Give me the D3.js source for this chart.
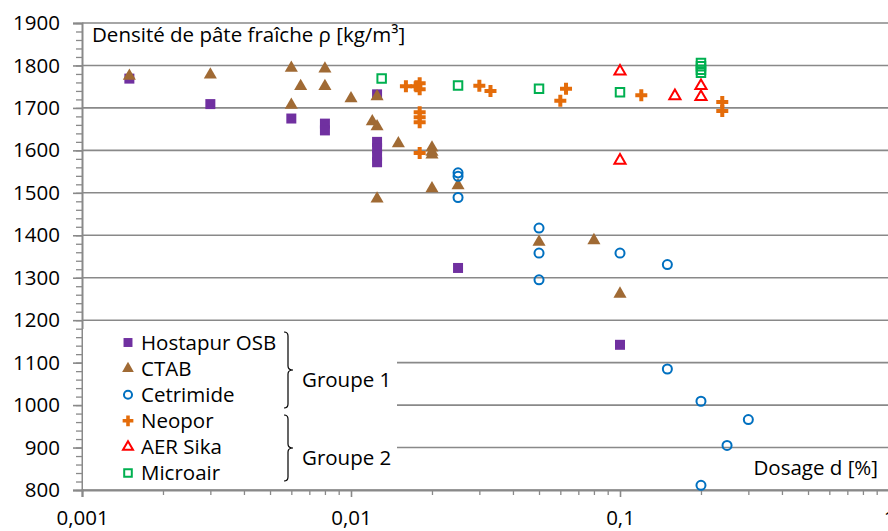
<!DOCTYPE html>
<html>
<head>
<meta charset="utf-8">
<script src="https://cdn.jsdelivr.net/npm/d3@7"></script>
<style>
    body { margin: 0; background: #fff; }
    svg text { font-family: "Open Sans", sans-serif; fill: #000; }
</style>
</head>
<body>
<div id="chart"></div>
<script>
// data: [dosage %, density kg/m3]
var hostapur = [[0.0015,1769],[0.003,1709],[0.006,1675],[0.008,1663],[0.008,1647],[0.0125,1732],
    [0.0125,1620],[0.0125,1605],[0.0125,1588],[0.0125,1572],[0.025,1323],[0.1,1142]];
var ctab = [[0.0015,1775],[0.003,1778],[0.006,1794],[0.006,1707],[0.0065,1751],[0.008,1792],
    [0.008,1751],[0.01,1722],[0.012,1668],[0.0125,1727],[0.0125,1656],[0.0125,1486],[0.015,1616],
    [0.02,1606],[0.02,1596],[0.02,1590],[0.02,1510],[0.025,1517],[0.05,1384],[0.08,1388],[0.1,1262]];
var cetrimide = [[0.025,1547],[0.025,1539],[0.025,1489],[0.05,1417],[0.05,1358],[0.05,1295],
    [0.1,1358],[0.15,1331],[0.15,1085],[0.2,1009],[0.3,966],[0.25,905],[0.2,811]];
var neopor = [[0.016,1751],[0.0175,1751],[0.018,1758],[0.018,1744],[0.018,1690],[0.018,1678],
    [0.018,1666],[0.018,1594],[0.03,1752],[0.033,1740],[0.06,1717],[0.063,1745],[0.12,1730],
    [0.24,1714],[0.24,1693]];
var aerSika = [[0.1,1786],[0.1,1576],[0.16,1728],[0.2,1752],[0.2,1726]];
var microair = [[0.013,1769],[0.025,1753],[0.05,1745],[0.1,1737],[0.2,1806],[0.2,1798],
    [0.2,1790],[0.2,1783]];

var seriesNames = ["Hostapur OSB", "CTAB", "Cetrimide", "Neopor", "AER Sika", "Microair"];
var xTicks = [0.001, 0.01, 0.1, 1];
var xTickLabels = ["0,001", "0,01", "0,1", "1"];
var yTicks = [800, 900, 1000, 1100, 1200, 1300, 1400, 1500, 1600, 1700, 1800, 1900];

var styles = [
    {type: d3.symbolSquare, size: 100, fill: "#7030A0", stroke: "none"},
    {type: d3.symbolTriangle, size: 74, fill: "#A06A34", stroke: "none"},
    {type: d3.symbolCircle, size: 64, fill: "none", stroke: "#0070C0"},
    {type: d3.symbolCross, size: 80, fill: "#E46C0A", stroke: "none"},
    {type: d3.symbolTriangle, size: 54, fill: "none", stroke: "#FF0000"},
    {type: d3.symbolSquare, size: 72, fill: "none", stroke: "#00B050"}
];
var allData = [hostapur, ctab, cetrimide, neopor, aerSika, microair];

var fontSize = "20.5px";

var margin = {top: 23, right: -1, bottom: 41, left: 82},
    width = 888 - margin.left - margin.right,
    height = 531 - margin.top - margin.bottom;

var svg = d3.select("#chart")
    .append("svg")
    .attr("width", 888)
    .attr("height", 531);

var g = svg.append("g").attr("transform", "translate(" + margin.left + "," + margin.top + ")");

var x = d3.scaleLog().domain([0.001, 1]).range([0, width]);
var y = d3.scaleLinear().domain([800, 1900]).range([height, 0]);

var grey = "#898989";

// gridlines
g.selectAll(".grid")
    .data(yTicks)
    .enter().append("line")
    .attr("class", "grid")
    .attr("x1", 0).attr("x2", width)
    .attr("y1", d => y(d)).attr("y2", d => y(d))
    .attr("stroke", grey)
    .attr("stroke-width", 1.6);

// y axis with minor ticks
var yMinor = d3.range(800, 1901, 20);
g.append("g")
    .call(d3.axisLeft(y).tickValues(yMinor).tickSize(6).tickFormat(""))
    .call(a => a.select(".domain").remove())
    .selectAll("line").attr("stroke", grey).attr("stroke-width", 1.3);

var yAxis = g.append("g")
    .call(d3.axisLeft(y).tickValues(yTicks).tickSize(9).tickPadding(13).tickFormat(d3.format("d")));
yAxis.select(".domain").attr("stroke", grey).attr("stroke-width", 2);
yAxis.selectAll("line").attr("stroke", grey).attr("stroke-width", 1.6);
yAxis.selectAll("text").style("font-size", fontSize).attr("fill", "#000");

// x axis, log with minor ticks 2..9
var xMinor = [];
[0.001, 0.01, 0.1].forEach(function (dec) {
    for (var k = 2; k <= 9; k++) xMinor.push(dec * k);
});
g.append("g")
    .attr("transform", "translate(0," + height + ")")
    .call(d3.axisBottom(x).tickValues(xMinor).tickSize(5).tickFormat(""))
    .call(a => a.select(".domain").remove())
    .selectAll("line").attr("stroke", grey).attr("stroke-width", 1.3);

var xAxis = g.append("g")
    .attr("transform", "translate(0," + height + ")")
    .call(d3.axisBottom(x).tickValues(xTicks).tickSize(7).tickPadding(13)
        .tickFormat((d, i) => xTickLabels[i]));
xAxis.select(".domain").attr("stroke", grey).attr("stroke-width", 2);
xAxis.selectAll("line").attr("stroke", grey).attr("stroke-width", 1.6);
xAxis.selectAll("text").style("font-size", fontSize).attr("fill", "#000");

// points
allData.forEach(function (data, i) {
    var st = styles[i];
    g.selectAll(".s" + i)
        .data(data)
        .enter().append("path")
        .attr("class", "s" + i)
        .attr("d", d3.symbol().type(st.type).size(st.size))
        .attr("transform", d => "translate(" + x(d[0]) + "," + y(d[1]) + ")")
        .attr("fill", st.fill)
        .attr("stroke", st.stroke)
        .attr("stroke-width", 2);
});

// axis titles
g.append("text")
    .attr("x", 10).attr("y", 19)
    .style("font-size", fontSize)
    .text("Densité de pâte fraîche ρ [kg/m³]");

g.append("text")
    .attr("x", 796).attr("y", 452)
    .attr("text-anchor", "end")
    .style("font-size", fontSize)
    .text("Dosage d [%]");

// legend
var legend = g.append("g");
legend.append("rect")
    .attr("x", 1).attr("y", 306)
    .attr("width", 314).attr("height", 160)
    .attr("fill", "#fff");

var rowH = 26.1;
seriesNames.forEach(function (name, i) {
    var st = styles[i];
    var cy = 319.5 + i * rowH;
    legend.append("path")
        .attr("d", d3.symbol().type(st.type).size(st.size * 0.8))
        .attr("transform", "translate(46," + cy + ")")
        .attr("fill", st.fill)
        .attr("stroke", st.stroke)
        .attr("stroke-width", 2);
    legend.append("text")
        .attr("x", 59).attr("y", cy)
        .attr("dy", "0.35em")
        .style("font-size", fontSize)
        .text(name);
});

// braces for the groups
function brace(top, bottom, xb) {
    var mid = (top + bottom) / 2;
    return "M" + (xb - 4) + "," + top + " Q" + xb + "," + top + " " + xb + "," + (top + 4) +
        " V" + (mid - 4) + " Q" + xb + "," + mid + " " + (xb + 5) + "," + mid +
        " Q" + xb + "," + mid + " " + xb + "," + (mid + 4) +
        " V" + (bottom - 4) + " Q" + xb + "," + bottom + " " + (xb - 4) + "," + bottom;
}
[[309, 385, "Groupe 1"], [392, 458, "Groupe 2"]].forEach(function (b) {
    legend.append("path")
        .attr("d", brace(b[0], b[1], 206))
        .attr("fill", "none")
        .attr("stroke", "#000")
        .attr("stroke-width", 1.2);
    legend.append("text")
        .attr("x", 220).attr("y", (b[0] + b[1]) / 2 + 10)
        .attr("dy", "0.35em")
        .style("font-size", fontSize)
        .text(b[2]);
});
</script>
</body>
</html>
